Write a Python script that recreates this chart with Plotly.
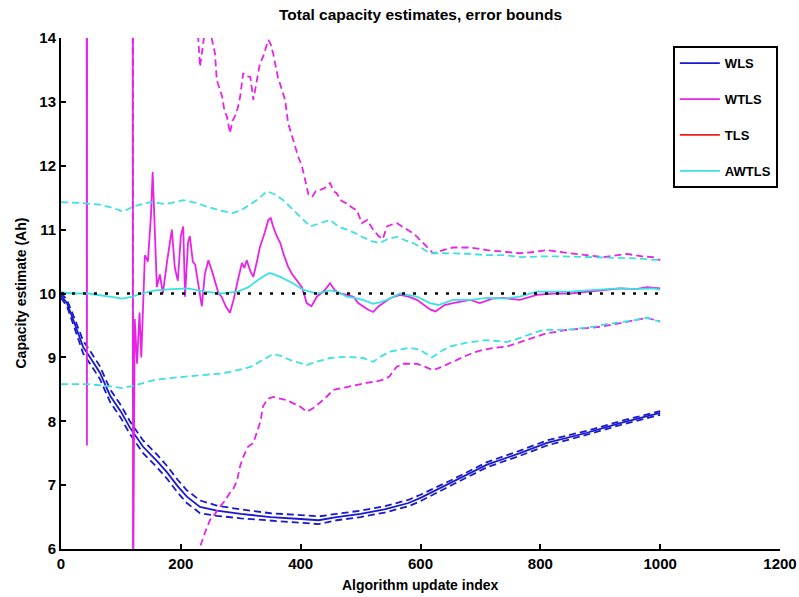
import plotly.graph_objects as go

# ---------------------------------------------------------------
# Total-capacity estimates (Ah) versus algorithm update index,
# each estimator shown with its error bounds (dashed).
# ---------------------------------------------------------------

# WLS estimate and half-width of its error bounds
wls_x = [0, 10, 20, 30, 37, 50, 65, 82, 100, 115, 137, 160, 177, 195, 210, 232,
         260, 300, 350, 400, 430, 460, 500, 540, 580, 600, 654, 711, 766, 811,
         878, 933, 1000]
wls_est = [9.97, 9.85, 9.6, 9.35, 9.16, 8.98, 8.76, 8.4, 8.15, 7.9, 7.6, 7.38,
           7.2, 6.98, 6.82, 6.66, 6.6, 6.55, 6.5, 6.47, 6.45, 6.5, 6.55, 6.62,
           6.72, 6.8, 7.05, 7.32, 7.5, 7.66, 7.82, 7.97, 8.13]
wls_halfwidth = [0.04, 0.05, 0.07, 0.09, 0.1, 0.1, 0.1, 0.1, 0.1, 0.1, 0.1, 0.1,
                 0.1, 0.1, 0.1, 0.1, 0.08, 0.07, 0.06, 0.06, 0.06, 0.05, 0.05,
                 0.05, 0.05, 0.05, 0.04, 0.04, 0.04, 0.04, 0.03, 0.03, 0.03]

# WTLS estimate (off-scale values before index 120 are clipped by the axes)
wtls_x = [0, 42.6, 43.0, 43.3, 43.6, 119.8, 120.2, 123, 127, 131, 134, 137, 140,
          145, 150, 153, 156, 160, 165, 170, 177, 185, 190, 195, 200, 204, 207,
          212, 215, 220, 224, 230, 235, 240, 246, 252, 257, 263, 268, 275, 282,
          288, 295, 302, 306, 310, 316, 321, 327, 332, 340, 346, 350, 354, 360,
          366, 372, 379, 386, 394, 402, 407, 410, 418, 427, 440, 449, 457, 466,
          477, 488, 496, 504, 512, 521, 530, 538, 550, 566, 580, 594, 605, 616,
          625, 640, 654, 670, 683, 699, 720, 738, 766, 794, 822, 850, 878, 905,
          933, 960, 978, 1000]
wtls_est = [16.0, 16.0, 12.55, 7.62, 16.0, 16.0, 5.0, 9.6, 8.9, 9.7, 9.0, 9.8,
            10.6, 10.5, 11.2, 11.9, 11.0, 10.1, 10.3, 10.0, 10.5, 11.0, 10.4,
            10.2, 10.9, 11.05, 9.95, 10.8, 10.9, 10.5, 10.45, 10.1, 9.8, 10.3,
            10.52, 10.35, 10.2, 10.0, 9.95, 9.8, 9.7, 9.9, 10.2, 10.48, 10.4,
            10.52, 10.35, 10.26, 10.5, 10.73, 10.95, 11.15, 11.18, 11.05, 10.9,
            10.79, 10.6, 10.42, 10.3, 10.2, 10.1, 9.95, 9.85, 9.8, 9.95, 10.05,
            10.16, 10.05, 10.0, 9.98, 9.95, 9.85, 9.8, 9.75, 9.71, 9.8, 9.85,
            9.93, 9.98, 9.95, 9.9, 9.83, 9.75, 9.72, 9.82, 9.85, 9.88, 9.9,
            9.85, 9.92, 9.93, 9.9, 9.98, 10.0, 10.0, 10.03, 10.05, 10.08, 10.07,
            10.1, 10.08]

# WTLS upper bound
wtls_up_x = [0, 119.6, 120.0, 120.4, 226, 229, 232, 235, 240, 248, 252, 257,
             260, 265, 269, 273, 277, 282, 286, 290, 295, 299, 304, 310, 316,
             321, 327, 332, 337, 342, 346, 350, 354, 362, 368, 374, 379, 387,
             396, 402, 407, 413, 419, 425, 432, 440, 449, 455, 460, 468, 477,
             485, 494, 502, 511, 521, 530, 537, 544, 552, 561, 570, 578, 586,
             594, 603, 611, 621, 635, 654, 683, 711, 744, 766, 790, 811, 850,
             880, 905, 945, 970, 988, 1000]
wtls_up = [16.0, 16.0, 8.2, 16.0, 14.3, 14.0, 13.55, 13.77, 14.1, 14.2, 13.97,
           13.76, 13.34, 13.2, 13.08, 12.85, 12.77, 12.51, 12.7, 12.77, 12.9,
           13.08, 13.45, 13.4, 13.39, 13.03, 13.34, 13.6, 13.7, 13.85, 13.97,
           13.9, 13.76, 13.39, 13.2, 13.03, 12.67, 12.4, 12.14, 12.0, 11.8,
           11.55, 11.51, 11.6, 11.62, 11.65, 11.73, 11.6, 11.57, 11.45, 11.41,
           11.35, 11.3, 11.1, 11.15, 11.0, 10.9, 10.85, 11.05, 11.08, 11.1,
           11.05, 11.0, 10.95, 10.89, 10.8, 10.73, 10.63, 10.67, 10.72, 10.72,
           10.68, 10.65, 10.63, 10.65, 10.68, 10.63, 10.6, 10.57, 10.62, 10.58,
           10.57, 10.52]

# WTLS lower bound (below the axis floor until index ~230)
wtls_lo_x = [0, 225, 232, 240, 249, 257, 265, 273, 282, 288, 294, 299, 304, 312,
             321, 329, 333, 337, 345, 354, 365, 377, 388, 399, 410, 420, 432,
             443, 454, 468, 482, 496, 510, 524, 538, 548, 560, 571, 583, 594,
             608, 621, 635, 649, 663, 677, 690, 705, 725, 744, 760, 777, 795,
             811, 828, 844, 870, 900, 925, 945, 965, 978, 1000]
wtls_lo = [3.0, 3.0, 6.03, 6.25, 6.46, 6.55, 6.66, 6.75, 6.88, 6.95, 7.08, 7.3,
           7.44, 7.6, 7.66, 7.87, 8.0, 8.23, 8.35, 8.38, 8.36, 8.33, 8.28, 8.23,
           8.15, 8.2, 8.29, 8.38, 8.49, 8.52, 8.54, 8.58, 8.6, 8.62, 8.65, 8.7,
           8.85, 8.9, 8.9, 8.9, 8.85, 8.8, 8.85, 8.91, 8.98, 9.03, 9.08, 9.12,
           9.15, 9.17, 9.22, 9.27, 9.33, 9.38, 9.4, 9.43, 9.45, 9.48, 9.52, 9.56,
           9.6, 9.62, 9.56]

# AWTLS estimate
awtls_x = [0, 20, 45, 73, 90, 102, 119, 135, 157, 185, 212, 240, 268, 295, 313,
           327, 340, 349, 366, 387, 404, 427, 449, 463, 477, 490, 504, 521, 532,
           544, 566, 594, 616, 630, 654, 683, 711, 740, 766, 794, 822, 850, 878,
           905, 933, 960, 988, 1000]
awtls_est = [10.02, 10.0, 10.0, 9.97, 9.94, 9.92, 9.95, 10.0, 10.05, 10.07,
             10.08, 10.03, 10.0, 10.03, 10.1, 10.2, 10.28, 10.32, 10.26, 10.16,
             10.06, 10.0, 10.05, 10.02, 9.95, 9.93, 9.9, 9.84, 9.86, 9.9, 10.0,
             9.95, 9.85, 9.82, 9.9, 9.9, 9.93, 9.92, 9.95, 10.03, 10.03, 10.03,
             10.05, 10.06, 10.08, 10.07, 10.08, 10.06]

# AWTLS upper bound
awtls_up_x = [0, 30, 65, 90, 104, 120, 149, 175, 204, 225, 243, 265, 287, 300,
              310, 325, 344, 357, 371, 388, 404, 416, 432, 449, 463, 477, 490,
              504, 518, 532, 545, 561, 575, 588, 600, 616, 640, 654, 683, 711,
              740, 766, 800, 840, 878, 920, 960, 1000]
awtls_up = [11.43, 11.42, 11.39, 11.33, 11.28, 11.36, 11.43, 11.4, 11.46, 11.42,
            11.36, 11.3, 11.26, 11.3, 11.36, 11.45, 11.6, 11.55, 11.46, 11.3,
            11.15, 11.05, 11.1, 11.15, 11.05, 11.0, 10.95, 10.88, 10.82, 10.79,
            10.85, 10.89, 10.83, 10.79, 10.72, 10.63, 10.63, 10.63, 10.62, 10.6,
            10.6, 10.57, 10.58, 10.58, 10.57, 10.56, 10.55, 10.52]

# AWTLS lower bound
awtls_lo_x = [0, 45, 80, 102, 119, 140, 157, 185, 212, 245, 270, 295, 316, 335,
              354, 368, 382, 396, 410, 430, 449, 463, 477, 490, 504, 521, 535,
              549, 565, 582, 599, 611, 619, 635, 649, 677, 711, 744, 765, 788,
              805, 844, 870, 889, 910, 928, 955, 978, 1000]
awtls_lo = [8.58, 8.58, 8.55, 8.52, 8.55, 8.6, 8.65, 8.68, 8.7, 8.73, 8.75, 8.8,
            8.85, 8.95, 9.05, 9.02, 8.96, 8.92, 8.88, 8.94, 8.99, 9.0, 9.01, 9.0,
            8.99, 8.93, 9.02, 9.09, 9.12, 9.15, 9.12, 9.05, 9.0, 9.1, 9.17, 9.23,
            9.27, 9.24, 9.3, 9.38, 9.43, 9.43, 9.46, 9.48, 9.52, 9.54, 9.58,
            9.62, 9.56]

# True capacity reference line
true_x = [0, 1000]
true_capacity = [10.0, 10.0]

x_ticks = [0, 200, 400, 600, 800, 1000, 1200]
y_ticks = [6, 7, 8, 9, 10, 11, 12, 13, 14]

BLUE = "rgb(25,25,205)"
MAGENTA = "rgb(232,35,232)"
RED = "rgb(235,30,30)"
CYAN = "rgb(60,225,225)"
DASH = "7px,4px"
FONT = "Liberation Sans, Arial, sans-serif"

wls_upper = [e + h for e, h in zip(wls_est, wls_halfwidth)]
wls_lower = [e - h for e, h in zip(wls_est, wls_halfwidth)]

fig = go.Figure()


def add(x, y, color, name, group, dash=None, legend=False, width=1.8):
    fig.add_trace(go.Scatter(
        x=x, y=y, mode="lines", name=name, legendgroup=group,
        showlegend=legend,
        line=dict(color=color, width=width, dash=dash),
        hoverinfo="skip" if not legend else None,
    ))


# WLS
add(wls_x, wls_est, BLUE, "WLS", "wls", legend=True)
add(wls_x, wls_upper, BLUE, "WLS upper", "wls", dash=DASH)
add(wls_x, wls_lower, BLUE, "WLS lower", "wls", dash=DASH)

# WTLS
add(wtls_x, wtls_est, MAGENTA, "WTLS", "wtls", legend=True)
add(wtls_up_x, wtls_up, MAGENTA, "WTLS upper", "wtls", dash=DASH)
add(wtls_lo_x, wtls_lo, MAGENTA, "WTLS lower", "wtls", dash=DASH)

# TLS (legend entry only, no points within the displayed range)
add([None], [None], RED, "TLS", "tls", legend=True)

# AWTLS
add(awtls_x, awtls_est, CYAN, "AWTLS", "awtls", legend=True)
add(awtls_up_x, awtls_up, CYAN, "AWTLS upper", "awtls", dash=DASH)
add(awtls_lo_x, awtls_lo, CYAN, "AWTLS lower", "awtls", dash=DASH)

# True capacity
add(true_x, true_capacity, "black", "True capacity", "true", dash="3px,8px",
    width=2.5)

axis_common = dict(
    showgrid=False, zeroline=False, showline=True, linecolor="black",
    linewidth=2, ticks="inside", ticklen=5, tickwidth=2, tickcolor="black",
    mirror=False, automargin=False,
    tickfont=dict(family=FONT, size=15, color="black", weight="bold"),
)

fig.update_layout(
    width=799, height=597,
    margin=dict(l=61, r=19, t=38, b=48, autoexpand=False),
    paper_bgcolor="white", plot_bgcolor="white",
    showlegend=True,
    title=dict(
        text="Total capacity estimates, error bounds",
        x=0.5, xref="paper", y=1 - 15 / 597, yref="container",
        xanchor="center", yanchor="middle",
        font=dict(family=FONT, size=15.5, color="black", weight="bold"),
    ),
    xaxis=dict(range=[0, 1200], tickvals=x_ticks, **axis_common),
    yaxis=dict(range=[6, 14], tickvals=y_ticks, **axis_common),
    legend=dict(
        x=0.851, y=0.984, xanchor="left", yanchor="top",
        bordercolor="black", borderwidth=2, bgcolor="white",
        font=dict(family=FONT, size=13, color="black", weight="bold"),
        tracegroupgap=16, itemwidth=40,
    ),
    annotations=[
        dict(text="Algorithm update index", xref="paper", yref="paper",
             x=0.5, y=0, yshift=-36, showarrow=False,
             xanchor="center", yanchor="middle",
             font=dict(family=FONT, size=14, color="black", weight="bold")),
        dict(text="Capacity estimate (Ah)", xref="paper", yref="paper",
             x=0, xshift=-41, y=0.5, textangle=-90, showarrow=False,
             xanchor="center", yanchor="middle",
             font=dict(family=FONT, size=14, color="black", weight="bold")),
    ],
)

fig.write_html("out.html")
